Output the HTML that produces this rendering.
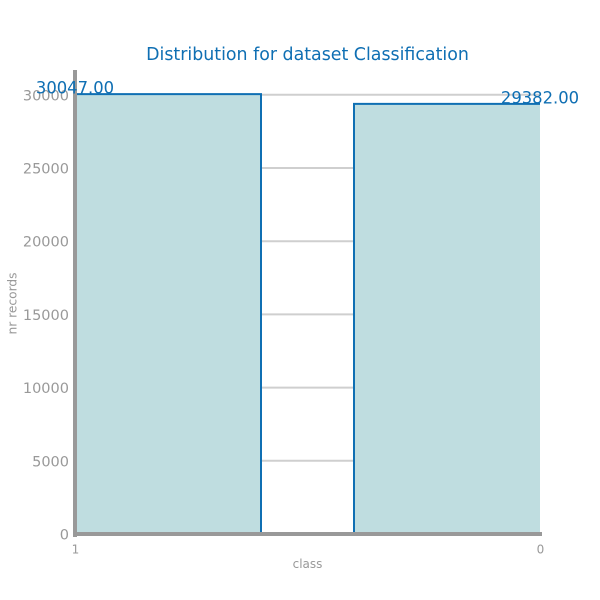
<!DOCTYPE html>
<html>
<head>
<meta charset="utf-8">
<style>
html,body{margin:0;padding:0;background:#fff;width:600px;height:600px;overflow:hidden}
svg{display:block}
text{font-family:"DejaVu Sans","Liberation Sans",sans-serif}
</style>
</head>
<body>
<svg id="chart" width="600" height="600" viewBox="0 0 600 600" xmlns="http://www.w3.org/2000/svg">
<text x="307.5" y="60" text-anchor="middle" font-size="17.4" fill="#0f6fb3">Distribution for dataset Classification</text>
<text x="307.5" y="568" text-anchor="middle" font-size="12" fill="#999999">class</text>
<text transform="translate(16.5,303.5) rotate(-90)" text-anchor="middle" font-size="12.2" fill="#999999">nr records</text>
</svg>
<script>
var categories = ['1', '0'];
var seriesValues = [30047, 29382];
var printedValues = ['30047.00', '29382.00'];
var yTickLabels = [0, 5000, 10000, 15000, 20000, 25000, 30000];

var NS = 'http://www.w3.org/2000/svg';
var svg = document.getElementById('chart');
var plotLeft = 75, plotRight = 540, plotBottom = 534, plotTop = 70;
var pxPerUnit = (534 - 94.8) / 30000;
var barWidth = 186;

function yScale(v) { return plotBottom - v * pxPerUnit; }
function xTick(i) { return plotLeft + i * (plotRight - plotLeft) / (categories.length - 1); }
function barLeft(i) { return plotLeft + i * (plotRight - plotLeft - barWidth) / (categories.length - 1); }
function make(tag, attrs) {
  var el = document.createElementNS(NS, tag);
  for (var k in attrs) { el.setAttribute(k, attrs[k]); }
  svg.appendChild(el);
  return el;
}

yTickLabels.forEach(function (t) {
  if (t > 0) {
    var grid = make('line', { x1: plotLeft, x2: plotRight, y1: yScale(t), y2: yScale(t), stroke: '#cfcfcf', 'stroke-width': 2 });
    
    
  }
  var label = make('text', { x: 69, y: yScale(t) + 5.5, 'text-anchor': 'end', 'font-size': 14.5, fill: '#999999' });
  label.textContent = t;
  
  
});

seriesValues.forEach(function (v, i) {
  var left = barLeft(i);
  var right = left + barWidth;
  var top = yScale(v);
  var bar = make('rect', { x: left, y: top, width: barWidth, height: plotBottom - top, fill: '#bfdde0' });
  
  
  var isLast = i === categories.length - 1;
  var d = 'M' + left + ' ' + plotBottom + 'L' + left + ' ' + top + 'L' + right + ' ' + top;
  if (!isLast) { d += 'L' + right + ' ' + plotBottom; }
  var outline = make('path', { d: d, fill: 'none', stroke: '#0f6fb3', 'stroke-width': 2 });
  
  
});

var spineLeft = make('rect', { x: 73, y: plotTop, width: 4, height: 467, fill: '#999999' });


var spineBottom = make('rect', { x: 73, y: 532, width: 469, height: 4, fill: '#999999' });



categories.forEach(function (c, i) {
  var tick = make('text', { x: xTick(i) + 0.5, y: 553.5, 'text-anchor': 'middle', 'font-size': 12, fill: '#999999' });
  tick.textContent = c;
  
  
});

seriesValues.forEach(function (v, i) {
  var val = make('text', { x: xTick(i), y: yScale(v) - 0.5, 'text-anchor': 'middle', 'font-size': 16.4, fill: '#0f6fb3' });
  val.textContent = printedValues[i];
  
  
});
</script>
</body>
</html>
